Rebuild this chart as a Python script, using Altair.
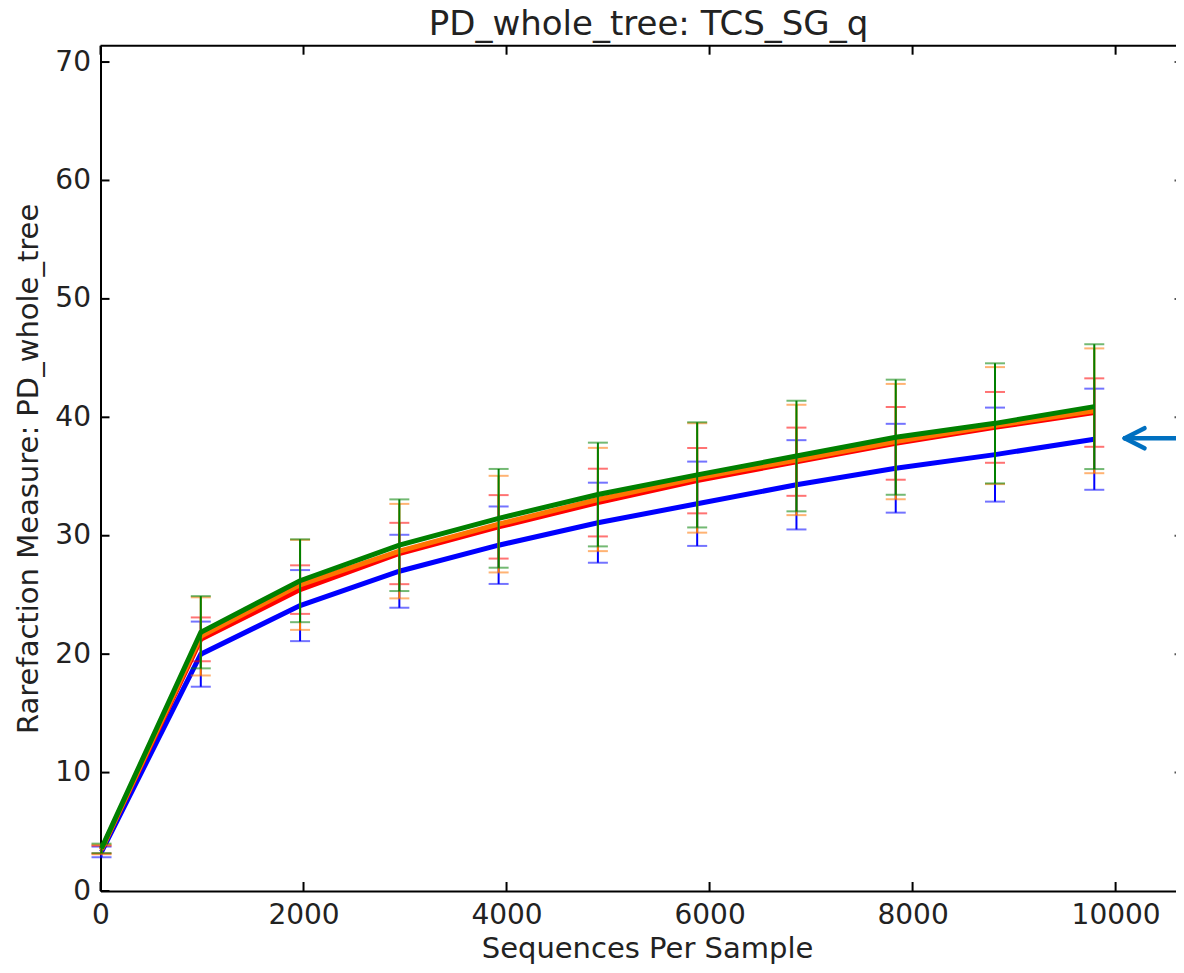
import altair as alt
import pandas as pd

# ---------------- data ----------------
seqs = [10, 988, 1966, 2944, 3922, 4900, 5878, 6856, 7834, 8812, 9790]

series_names = ["Group A", "Group B", "Group C", "Group D"]
series_colors = ["#0000ff", "#ff0000", "#ff7400", "#008000"]

blue_mean = [3.3, 20.0, 24.1, 27.0, 29.2, 31.1, 32.7, 34.3, 35.7, 36.85, 38.15]
blue_sd = [0.45, 2.75, 3.0, 3.08, 3.27, 3.38, 3.56, 3.77, 3.75, 3.97, 4.27]

red_mean = [3.5, 21.25, 25.45, 28.5, 30.75, 32.8, 34.65, 36.25, 37.8, 39.15, 40.4]
red_sd = [0.33, 1.85, 2.05, 2.59, 2.68, 2.86, 2.76, 2.88, 3.07, 2.99, 2.89]

orange_mean = [3.5, 21.5, 25.85, 28.7, 30.98, 33.06, 34.88, 36.4, 37.95, 39.3, 40.55]
orange_sd = [0.4, 3.3, 3.8, 3.99, 4.08, 4.36, 4.62, 4.66, 4.87, 4.94, 5.27]

green_mean = [3.6, 21.85, 26.2, 29.2, 31.47, 33.48, 35.14, 36.73, 38.32, 39.49, 40.9]
green_sd = [0.4, 3.05, 3.5, 3.87, 4.17, 4.38, 4.44, 4.67, 4.86, 5.07, 5.27]

x_ticks = [0, 2000, 4000, 6000, 8000, 10000]
y_ticks = [0, 10, 20, 30, 40, 50, 60, 70]

# ---------------- layout ----------------
W = 1075.5
H = 845.3
PX_PER_X = 0.10151
x_max = W / PX_PER_X
y_max = 71.38
FONT = "DejaVu Sans"
TXT = "#222222"

# annotation arrow (data units): tip, arm ends, shaft end
arrow_tip = (10090, 38.23)
arrow_arm_x = 10285
arrow_arm_dy = 0.85
arrow_end_x = x_max

means = [blue_mean, red_mean, orange_mean, green_mean]
sds = [blue_sd, red_sd, orange_sd, green_sd]

rows = []
for name, m, s in zip(series_names, means, sds):
    for x, mv, sv in zip(seqs, m, s):
        rows.append({"seq": x, "series": name, "pd": mv, "lo": mv - sv, "hi": mv + sv})
df = pd.DataFrame(rows)

caps_rows = []
for r in rows:
    caps_rows.append({"seq": r["seq"], "series": r["series"], "pd": r["lo"]})
    caps_rows.append({"seq": r["seq"], "series": r["series"], "pd": r["hi"]})
caps = pd.DataFrame(caps_rows)

xs = alt.Scale(domain=[0, x_max], nice=False, zero=False)
ys = alt.Scale(domain=[0, y_max], nice=False, zero=False)

# invisible layer carrying the axes
axis_layer = alt.Chart(pd.DataFrame({"seq": x_ticks[:1], "pd": y_ticks[:1]})).mark_point(opacity=0).encode(
    x=alt.X("seq:Q", scale=xs, axis=alt.Axis(
        values=x_ticks, format="d", tickSize=0, grid=False,
        domainColor="black", domainWidth=2,
        labelFont=FONT, labelFontSize=28, labelColor=TXT, labelPadding=10,
        labelFlush=False, labelOverlap=False,
        title="Sequences Per Sample", titleFont=FONT, titleFontSize=29,
        titleFontWeight="normal", titleColor=TXT, titleBaseline="alphabetic",
        titleX=546.5, titleY=66.5, titleAlign="center")),
    y=alt.Y("pd:Q", scale=ys, axis=alt.Axis(
        values=y_ticks, tickSize=0, grid=False,
        domainColor="black", domainWidth=2,
        labelFont=FONT, labelFontSize=28, labelColor=TXT, labelPadding=10,
        labelFlush=False, labelOverlap=False,
        title="Rarefaction Measure: PD_whole_tree", titleFont=FONT, titleFontSize=29,
        titleFontWeight="normal", titleColor=TXT, titleBaseline="alphabetic",
        titleAngle=-90, titleX=-63.5, titleY=H / 2, titleAlign="center")),
)

layers = [axis_layer]

for name, color in zip(series_names, series_colors):
    d = df[df["series"] == name]
    c = caps[caps["series"] == name]
    line = alt.Chart(d).mark_line(color=color, strokeWidth=5).encode(
        x=alt.X("seq:Q", scale=xs), y=alt.Y("pd:Q", scale=ys), order="seq:Q")
    bars = alt.Chart(d).mark_rule(color=color, strokeWidth=2).encode(
        x=alt.X("seq:Q", scale=xs), y=alt.Y("lo:Q", scale=ys), y2="hi:Q")
    capm = alt.Chart(c).mark_tick(color=color, orient="horizontal", size=20,
                                  thickness=2, opacity=0.55).encode(
        x=alt.X("seq:Q", scale=xs), y=alt.Y("pd:Q", scale=ys))
    layers += [line, bars, capm]

# frame: top spine and inward ticks
xt = pd.DataFrame({"seq": x_ticks})
yt = pd.DataFrame({"pd": y_ticks})
top_spine = alt.Chart(xt.head(1)).mark_rule(color="black", strokeWidth=2).encode(
    x=alt.value(0), x2=alt.value(W), y=alt.value(0))
bottom_ticks = alt.Chart(xt).mark_rule(color="black", strokeWidth=2).encode(
    x=alt.X("seq:Q", scale=xs), y=alt.value(H), y2=alt.value(H - 9))
top_ticks = alt.Chart(xt).mark_rule(color="black", strokeWidth=2).encode(
    x=alt.X("seq:Q", scale=xs), y=alt.value(0), y2=alt.value(9))
left_ticks = alt.Chart(yt).mark_rule(color="black", strokeWidth=2).encode(
    y=alt.Y("pd:Q", scale=ys), x=alt.value(0), x2=alt.value(9))
right_ticks = alt.Chart(yt[yt["pd"] > 0]).mark_rule(color="#555555", strokeWidth=2).encode(
    y=alt.Y("pd:Q", scale=ys), x=alt.value(W - 1.5), x2=alt.value(W))
layers += [top_spine, bottom_ticks, top_ticks, left_ticks, right_ticks]

# arrow annotation
arrow = pd.DataFrame({
    "seq": [arrow_tip[0], arrow_tip[0], arrow_tip[0]],
    "pd": [arrow_tip[1], arrow_tip[1], arrow_tip[1]],
    "seq2": [arrow_end_x, arrow_arm_x, arrow_arm_x],
    "pd2": [arrow_tip[1], arrow_tip[1] + arrow_arm_dy, arrow_tip[1] - arrow_arm_dy],
})
arrow_layer = alt.Chart(arrow).mark_rule(color="#0070c0", strokeWidth=4.5, strokeCap="round").encode(
    x=alt.X("seq:Q", scale=xs), x2="seq2:Q", y=alt.Y("pd:Q", scale=ys), y2="pd2:Q")
layers.append(arrow_layer)

chart = alt.layer(*layers).properties(
    width=W, height=H,
    title=alt.TitleParams("PD_whole_tree: TCS_SG_q", font=FONT, fontSize=34,
                          fontWeight="normal", color=TXT, anchor="middle",
                          dx=10.25, offset=2.5),
    autosize=alt.AutoSizeParams(type="none"),
    padding={"left": 92.5, "top": 37.7, "right": 0, "bottom": 74},
).configure_view(stroke=None)

chart.save("out.html", embed_options={"renderer": "svg", "actions": False})
